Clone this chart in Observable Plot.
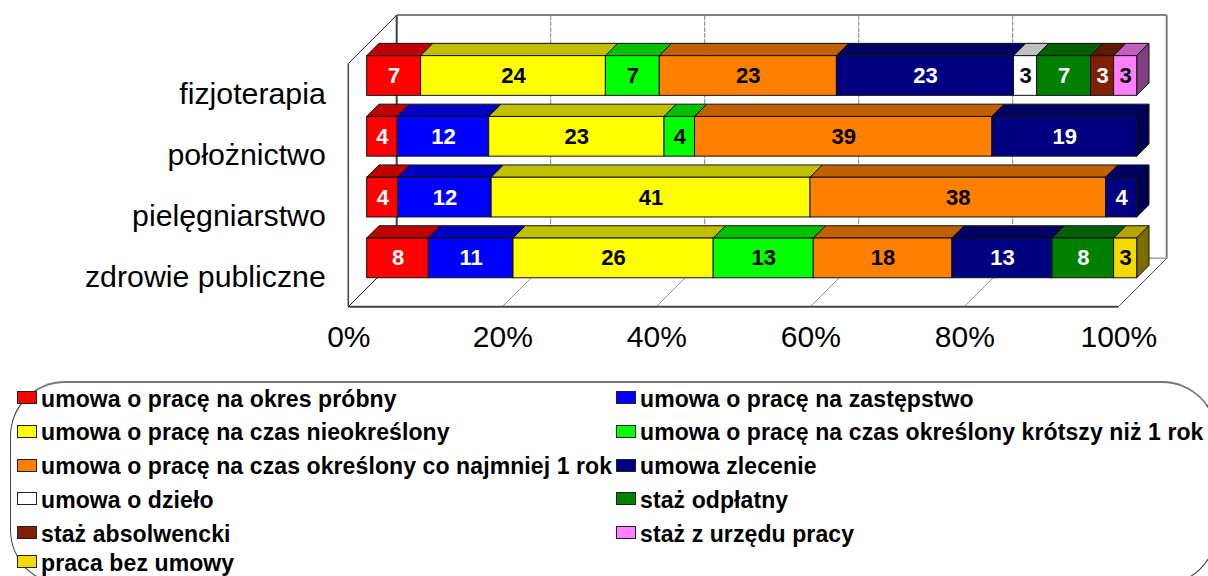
<!DOCTYPE html>
<html lang="pl">
<head>
<meta charset="utf-8">
<script src="https://cdn.jsdelivr.net/npm/d3@7"></script>
<script src="https://cdn.jsdelivr.net/npm/@observablehq/plot@0.6"></script>
<style>
  html, body { margin: 0; padding: 0; background: #fff; overflow: hidden; }
  #page { width: 1208px; height: 576px; overflow: hidden; position: relative; font-family: "Liberation Sans", Arial, sans-serif; }
  #page svg { display: block; }
  #legend { position: relative; width: 1208px; height: 200px; overflow: hidden; }
  #legend .box { position: absolute; left: 10px; top: 5px; width: 1207px; height: 204px; border: 1px solid #444; border-radius: 55px; box-sizing: border-box; border-top: 2px solid #777; }
  #legend .item { position: absolute; display: flex; align-items: center; height: 24px; font-weight: bold; font-size: 23px; letter-spacing: 0.1px; white-space: nowrap; color: #000; }
  #legend .sw { border: 1px solid #222; box-sizing: border-box; width: 20px; height: 13px; margin-right: 4px; margin-top: -3px; flex: none; }
</style>
</head>
<body>
<div id="page"></div>
<script>
const categories = ["fizjoterapia", "położnictwo", "pielęgniarstwo", "zdrowie publiczne"];
const seriesNames = [
  "umowa o pracę na okres próbny",
  "umowa o pracę na zastępstwo",
  "umowa o pracę na czas nieokreślony",
  "umowa o pracę na czas określony krótszy niż 1 rok",
  "umowa o pracę na czas określony co najmniej 1 rok",
  "umowa zlecenie",
  "umowa o dzieło",
  "staż odpłatny",
  "staż absolwencki",
  "staż z urzędu pracy",
  "praca bez umowy"
];
// One array per series, in the order of categories (0 = no segment)
const okresProbny     = [7, 4, 4, 8];
const zastepstwo      = [0, 12, 12, 11];
const nieokreslony    = [24, 23, 41, 26];
const krotszy1rok     = [7, 4, 0, 13];
const conajmniej1rok  = [23, 39, 38, 18];
const zlecenie        = [23, 19, 4, 13];
const dzielo          = [3, 0, 0, 0];
const stazOdplatny    = [7, 0, 0, 8];
const stazAbsolwencki = [3, 0, 0, 0];
const stazUrzad       = [3, 0, 0, 0];
const bezUmowy        = [0, 0, 0, 3];
const seriesValues = [okresProbny, zastepstwo, nieokreslony, krotszy1rok, conajmniej1rok, zlecenie, dzielo, stazOdplatny, stazAbsolwencki, stazUrzad, bezUmowy];

const tickValues = [0, 0.2, 0.4, 0.6, 0.8, 1];

const frontColors = ["#ff0000", "#0000ff", "#ffff00", "#00ff00", "#ff8000", "#000080", "#ffffff", "#008000", "#802000", "#ff80ff", "#f2dc00"];
const topColors   = ["#c00000", "#0000c0", "#c0c000", "#00c000", "#c06000", "#000060", "#c0c0c0", "#006000", "#601800", "#c060c0", "#b8a400"];
const sideColors  = ["#800000", "#000080", "#808000", "#008000", "#804000", "#000050", "#808080", "#004000", "#401000", "#804080", "#7a6e00"];
const labelColors = ["#fff", "#fff", "#000", "#000", "#000", "#fff", "#000", "#fff", "#fff", "#000", "#000"];

const rows = [];
categories.forEach((category, c) => {
  const present = seriesNames.map((_, s) => s).filter(s => seriesValues[s][c] > 0);
  for (const s of present) {
    rows.push({category, s, value: seriesValues[s][c], last: s === present[present.length - 1]});
  }
});

const wallDepth = 48.4;   // depth of the 3D chart box
const barShift = 18.4;    // bars stand this far behind the front plane
const barDepth = 12.3;    // depth of a bar

const stack = (o) => Plot.stackX({x: "value", y: "category", ...o});

function polygonFace(kind) {
  return (index, scales, values) => {
    const g = d3.create("svg:g");
    const bw = typeof scales.y.bandwidth === "function" ? scales.y.bandwidth() : scales.y.bandwidth;
    for (const i of index) {
      const x1 = values.x1[i] + barShift, x2 = values.x2[i] + barShift;
      const y1 = values.y[i] - barShift, y2 = y1 + bw, d = barDepth;
      const pts = kind === "top"
        ? [[x1, y1], [x2, y1], [x2 + d, y1 - d], [x1 + d, y1 - d]]
        : [[x2, y1], [x2 + d, y1 - d], [x2 + d, y2 - d], [x2, y2]];
      g.append("polygon")
        .attr("points", pts.join(" "))
        .attr("fill", values.fill[i])
        .attr("stroke", "#111")
        .attr("stroke-width", 1)
        .attr("stroke-linejoin", "round");
    }
    return g.node();
  };
}

function chartBox(index, scales, values, dim) {
  const g = d3.create("svg:g").attr("fill", "none");
  const L = dim.marginLeft, R = dim.width - dim.marginRight;
  const T = dim.marginTop, B = dim.height - dim.marginBottom;
  const D = wallDepth;
  const line = (x1, y1, x2, y2, stroke, w, dash) => g.append("line")
    .attr("x1", x1).attr("y1", y1).attr("x2", x2).attr("y2", y2)
    .attr("stroke", stroke).attr("stroke-width", w).attr("stroke-dasharray", dash || null);
  for (const t of tickValues.slice(1, -1)) {
    const x = scales.x(t);
    line(x + D, T - D, x + D, B - D, "#808080", 1, "5,1");
    line(x, B, x + D, B - D, "#999", 1);
  }
  line(L + D, T - D, R + D, T - D, "#808080", 2);
  line(R + D, T - D, R + D, B - D, "#808080", 2);
  line(L + D, B - D, R + D, B - D, "#a0a0a0", 1.5);
  line(L + D, T - D, L + D, B - D, "#404040", 2);
  line(L, T, L + D, T - D, "#222", 1);
  line(L, T, L, B, "#444", 1.5);
  line(L, B, L + D, B - D, "#111", 1);
  line(R, B, R + D, B - D, "#555", 1);
  line(L, B, R, B, "#444", 2);
  return g.node();
}

const chart = Plot.plot({
  width: 1208,
  height: 376,
  marginLeft: 348.3,
  marginRight: 89.7,
  marginTop: 63.5,
  marginBottom: 69.3,
  style: {fontFamily: "'Liberation Sans', Arial, sans-serif", background: "#fff", overflow: "visible"},
  x: {domain: [0, 1]},
  y: {domain: categories, paddingInner: 0.347, paddingOuter: 0.1735, round: false},
  marks: [
    chartBox,
    Plot.axisX({ticks: tickValues, tickFormat: d3.format(".0%"), tickSize: 0, tickPadding: 18, fontSize: 30, label: null, fill: "#000"}),
    Plot.axisY({tickSize: 0, tickPadding: 23, fontSize: 30.3, label: null, fill: "#000"}),
    Plot.barX(rows, stack({offset: "normalize", fill: d => topColors[d.s], render: polygonFace("top")})),
    Plot.barX(rows, stack({offset: "normalize", fill: d => sideColors[d.s], filter: d => d.last, render: polygonFace("side")})),
    Plot.barX(rows, stack({offset: "normalize", fill: d => frontColors[d.s], stroke: "#111", strokeWidth: 1, dx: barShift, dy: -barShift})),
    Plot.text(rows, stack({offset: "normalize", text: d => String(d.value), fill: d => labelColors[d.s], dx: barShift, dy: -barShift, fontWeight: "bold", fontSize: 22}))
  ]
});

const page = document.getElementById("page");
page.appendChild(chart);

const legend = d3.select(page).append("div").attr("id", "legend");
legend.append("div").attr("class", "box");
seriesNames.forEach((name, i) => {
  const col = i % 2, row = Math.floor(i / 2);
  const item = legend.append("div").attr("class", "item")
    .style("left", (col ? 616 : 17) + "px")
    .style("top", (row === 5 ? 175 : 11 + row * 33.8) + "px");
  item.append("span").attr("class", "sw").style("background", frontColors[i]);
  item.append("span").text(name);
});
</script>
</body>
</html>
